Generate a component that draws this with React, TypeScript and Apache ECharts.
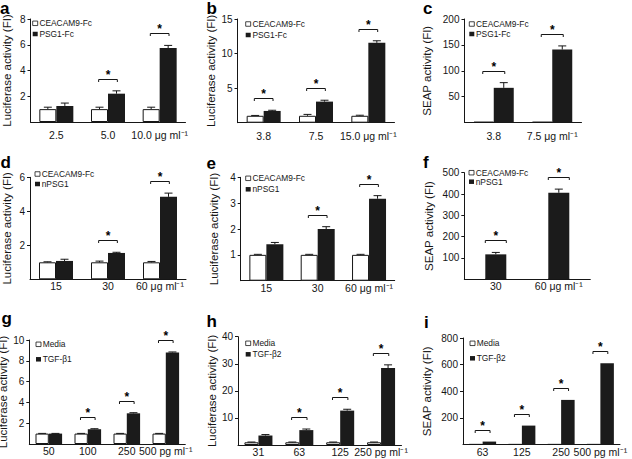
import React, { useEffect, useRef } from 'react';
import * as echarts from 'echarts';

const FONT = '"Liberation Sans", Arial, Helvetica, sans-serif';
const INK = '#161616';

// ---------- Panel a ----------
const aCategories = ['2.5', '5.0', '10.0 μg ml⁻¹'];
const aSeriesNames = ['CEACAM9-Fc', 'PSG1-Fc'];
const aControl = [1.0, 1.0, 1.0];
const aControlSd = [0.15, 0.15, 0.15];
const aTreated = [1.25, 2.2, 5.75];
const aTreatedSd = [0.22, 0.22, 0.2];
const aSignificant = [false, true, true];
const aYTicks = { max: 8, interval: 2 };

// ---------- Panel b ----------
const bCategories = ['3.8', '7.5', '15.0 μg ml⁻¹'];
const bSeriesNames = ['CEACAM9-Fc', 'PSG1-Fc'];
const bControl = [1.0, 1.0, 1.0];
const bControlSd = [0.05, 0.2, 0.08];
const bTreated = [1.7, 3.05, 11.55];
const bTreatedSd = [0.1, 0.2, 0.3];
const bSignificant = [true, true, true];
const bYTicks = { max: 15, interval: 5 };

// ---------- Panel c ----------
const cCategories = ['3.8', '7.5 μg ml⁻¹'];
const cSeriesNames = ['CEACAM9-Fc', 'PSG1-Fc'];
const cControl = [1, 1];
const cControlSd = [0, 0];
const cTreated = [67, 141];
const cTreatedSd = [10, 7];
const cSignificant = [true, true];
const cYTicks = { max: 200, interval: 50 };

// ---------- Panel d ----------
const dCategories = ['15', '30', '60 μg ml⁻¹'];
const dSeriesNames = ['CEACAM9-Fc', 'nPSG1'];
const dControl = [1.0, 1.0, 1.0];
const dControlSd = [0.03, 0.07, 0.05];
const dTreated = [1.08, 1.55, 4.85];
const dTreatedSd = [0.1, 0.04, 0.22];
const dSignificant = [false, true, true];
const dYTicks = { max: 6, interval: 2 };

// ---------- Panel e ----------
const eCategories = ['15', '30', '60 μg ml⁻¹'];
const eSeriesNames = ['CEACAM9-Fc', 'nPSG1'];
const eControl = [1.0, 1.0, 1.0];
const eControlSd = [0.02, 0.02, 0.02];
const eTreated = [1.41, 2.0, 3.17];
const eTreatedSd = [0.07, 0.09, 0.12];
const eSignificant = [false, true, true];
const eYTicks = { max: 4, interval: 1 };

// ---------- Panel f ----------
const fCategories = ['30', '60 μg ml⁻¹'];
const fSeriesNames = ['CEACAM9-Fc', 'nPSG1'];
const fControl = [1, 1];
const fControlSd = [0, 0];
const fTreated = [117, 406];
const fTreatedSd = [9, 17];
const fSignificant = [true, true];
const fYTicks = { max: 500, interval: 100 };

// ---------- Panel g ----------
const gCategories = ['50', '100', '250', '500 pg ml⁻¹'];
const gSeriesNames = ['Media', 'TGF-β1'];
const gControl = [1, 1, 1, 1];
const gControlSd = [0.02, 0.02, 0.02, 0.02];
const gTreated = [1.0, 1.42, 2.95, 8.8];
const gTreatedSd = [0.02, 0.05, 0.06, 0.05];
const gSignificant = [false, true, true, true];
const gYTicks = { max: 10, interval: 2 };

// ---------- Panel h ----------
const hCategories = ['31', '63', '125', '250 pg ml⁻¹'];
const hSeriesNames = ['Media', 'TGF-β2'];
const hControl = [1, 1, 1, 1];
const hControlSd = [0.1, 0.1, 0.1, 0.1];
const hTreated = [3.5, 5.5, 12.7, 28.4];
const hTreatedSd = [0.35, 0.4, 0.5, 1.2];
const hSignificant = [false, true, true, true];
const hYTicks = { max: 40, interval: 10 };

// ---------- Panel i ----------
const iCategories = ['63', '125', '250', '500 pg ml⁻¹'];
const iSeriesNames = ['Media', 'TGF-β2'];
const iControl = [1, 1, 1, 1];
const iControlSd = [0, 0, 0, 0];
const iTreated = [22, 142, 335, 610];
const iTreatedSd = [0, 0, 0, 0];
const iSignificant = [true, true, true, true];
const iYTicks = { max: 800, interval: 200 };

const LUC = 'Luciferase activity (FI)';
const SEAP = 'SEAP activity (FI)';

const panels = [
  { letter: 'a', categories: aCategories, names: aSeriesNames, control: aControl, controlSd: aControlSd, treated: aTreated, treatedSd: aTreatedSd, sig: aSignificant, ticks: aYTicks, yName: LUC,
    layout: { left: 30.5, top: 19, width: 155, height: 103, nameGap: 17.5, bw: 17, overlap: false, lm: 7.5, lx: 32.7, ly: 23.3, ldy: 10.7, tx: 0, tb: 13.6 } },
  { letter: 'b', categories: bCategories, names: bSeriesNames, control: bControl, controlSd: bControlSd, treated: bTreated, treatedSd: bTreatedSd, sig: bSignificant, ticks: bYTicks, yName: LUC,
    layout: { left: 237.5, top: 19, width: 157, height: 103.7, nameGap: 20.5, bw: 17, overlap: false, lm: 7.5, lx: 245.7, ly: 24, ldy: 11, tx: 206.5, tb: 13.6 } },
  { letter: 'c', categories: cCategories, names: cSeriesNames, control: cControl, controlSd: cControlSd, treated: cTreated, treatedSd: cTreatedSd, sig: cSignificant, ticks: cYTicks, yName: SEAP,
    layout: { left: 464.5, top: 19, width: 117, height: 103.5, nameGap: 32, bw: 20, overlap: false, lm: 7.5, lx: 469.3, ly: 24, ldy: 10, tx: 423, tb: 13.6 } },
  { letter: 'd', categories: dCategories, names: dSeriesNames, control: dControl, controlSd: dControlSd, treated: dTreated, treatedSd: dTreatedSd, sig: dSignificant, ticks: dYTicks, yName: LUC,
    layout: { left: 30, top: 177.3, width: 156, height: 102, nameGap: 17.5, bw: 17, overlap: false, lm: 1.5, lx: 35, ly: 174, ldy: 10, tx: 0.5, tb: 168.3 } },
  { letter: 'e', categories: eCategories, names: eSeriesNames, control: eControl, controlSd: eControlSd, treated: eTreated, treatedSd: eTreatedSd, sig: eSignificant, ticks: eYTicks, yName: LUC,
    layout: { left: 240.7, top: 177.3, width: 154, height: 103.4, nameGap: 20.5, bw: 17, overlap: false, lm: 1.5, lx: 245.7, ly: 178.3, ldy: 11, tx: 206.5, tb: 169.3 } },
  { letter: 'f', categories: fCategories, names: fSeriesNames, control: fControl, controlSd: fControlSd, treated: fTreated, treatedSd: fTreatedSd, sig: fSignificant, ticks: fYTicks, yName: SEAP,
    layout: { left: 464.3, top: 172.7, width: 126, height: 106.6, nameGap: 29.5, bw: 21, overlap: true, lm: 1.5, lx: 469, ly: 172.7, ldy: 9, tx: 423, tb: 168.3 } },
  { letter: 'g', categories: gCategories, names: gSeriesNames, control: gControl, controlSd: gControlSd, treated: gTreated, treatedSd: gTreatedSd, sig: gSignificant, ticks: gYTicks, yName: LUC,
    layout: { left: 29.3, top: 340, width: 156, height: 104, nameGap: 14.5, bw: 13.3, overlap: false, lm: 1.5, lx: 36, ly: 344.3, ldy: 15, tx: 1.5, tb: 324 } },
  { letter: 'h', categories: hCategories, names: hSeriesNames, control: hControl, controlSd: hControlSd, treated: hTreated, treatedSd: hTreatedSd, sig: hSignificant, ticks: hYTicks, yName: LUC,
    layout: { left: 238, top: 336.7, width: 163.5, height: 108.3, nameGap: 18.4, bw: 14, overlap: false, lm: 1.5, lx: 245.7, ly: 343.3, ldy: 11, tx: 206.5, tb: 327.7 } },
  { letter: 'i', categories: iCategories, names: iSeriesNames, control: iControl, controlSd: iControlSd, treated: iTreated, treatedSd: iTreatedSd, sig: iSignificant, ticks: iYTicks, yName: SEAP,
    layout: { left: 463, top: 338, width: 157, height: 106.5, nameGap: 30, bw: 13.5, overlap: false, lm: 1.5, lx: 470, ly: 343.3, ldy: 15, tx: 424, tb: 328.3 } },
];

function makeRenderItem(bw: number, overlap: boolean) {
  return (_params: any, api: any) => {
    const idx = api.value(0);
    const cv = api.value(1);
    const cs = api.value(2);
    const tv = api.value(3);
    const ts = api.value(4);
    const sig = api.value(5);
    const cx = api.coord([idx, 0])[0];
    const xc = overlap ? cx : cx - bw / 2;
    const xt = overlap ? cx : cx + bw / 2;
    const children: any[] = [];
    const cap = 4;
    const lineStyle = { stroke: INK, lineWidth: 1 };
    const err = (x: number, v: number, s: number) => {
      if (!(s > 0)) return;
      const y0 = api.coord([idx, v])[1];
      const y1 = api.coord([idx, v + s])[1];
      children.push({ type: 'line', shape: { x1: x, y1: y0, x2: x, y2: y1 }, style: lineStyle });
      children.push({ type: 'line', shape: { x1: x - cap, y1: y1, x2: x + cap, y2: y1 }, style: lineStyle });
    };
    err(xc, cv, cs);
    err(xt, tv, ts);
    if (sig) {
      const top = Math.min(api.coord([idx, cv + cs])[1], api.coord([idx, tv + ts])[1]);
      const by = Math.round(top - 12) + 0.5;
      const half = overlap ? bw * 0.5 : bw * 0.55;
      const x1 = cx - half;
      const x2 = cx + half;
      children.push({
        type: 'polyline',
        shape: { points: [[x1, by + 2.5], [x1, by], [x2, by], [x2, by + 2.5]] },
        style: { stroke: INK, lineWidth: 1, fill: null },
      });
      children.push({
        type: 'text',
        x: cx,
        y: by - 5,
        style: { text: '*', align: 'center', verticalAlign: 'middle', font: `bold 12px ${FONT}`, fill: '#000' },
      });
    }
    return { type: 'group', children };
  };
}

function buildOption() {
  const grid: any[] = [];
  const xAxis: any[] = [];
  const yAxis: any[] = [];
  const series: any[] = [];
  const graphic: any[] = [];
  const LETTER_SIZE = 17;

  panels.forEach((p, k) => {
    const L = p.layout;
    grid.push({ left: L.left, top: L.top, width: L.width, height: L.height, containLabel: false, outerBoundsMode: 'none' });
    xAxis.push({
      type: 'category',
      gridIndex: k,
      data: p.categories,
      axisLine: { show: true, lineStyle: { color: INK, width: 1 } },
      axisTick: { show: false },
      axisLabel: { color: INK, fontSize: 10.5, margin: L.lm, interval: 0, fontFamily: FONT },
      splitLine: { show: false },
    });
    yAxis.push({
      type: 'value',
      gridIndex: k,
      min: 0,
      max: p.ticks.max,
      interval: p.ticks.interval,
      name: p.yName,
      nameLocation: 'middle',
      nameGap: L.nameGap,
      nameTextStyle: { fontSize: 11.5, color: INK, fontFamily: FONT },
      axisLine: { show: true, lineStyle: { color: INK, width: 1 } },
      axisTick: { show: true, length: 3, lineStyle: { color: INK, width: 1 } },
      axisLabel: { showMinLabel: false, fontSize: 10, margin: 5, color: INK, fontFamily: FONT },
      splitLine: { show: false },
    });
    series.push({
      type: 'bar',
      name: p.names[0],
      xAxisIndex: k,
      yAxisIndex: k,
      data: p.control,
      barWidth: L.bw,
      barGap: L.overlap ? '-100%' : '0%',
      itemStyle: { color: '#ffffff', borderColor: INK, borderWidth: 1 },
      emphasis: { disabled: true },
    });
    series.push({
      type: 'bar',
      name: p.names[1],
      xAxisIndex: k,
      yAxisIndex: k,
      data: p.treated,
      barWidth: L.bw,
      barGap: L.overlap ? '-100%' : '0%',
      itemStyle: { color: '#1b1b1b', borderColor: '#1b1b1b', borderWidth: 0 },
      emphasis: { disabled: true },
    });
    series.push({
      type: 'custom',
      name: `${p.letter}-annotations`,
      xAxisIndex: k,
      yAxisIndex: k,
      color: INK,
      itemStyle: { color: INK },
      data: p.categories.map((_, i) => [i, p.control[i], p.controlSd[i], p.treated[i], p.treatedSd[i], p.sig[i] ? 1 : 0]),
      renderItem: makeRenderItem(L.bw, L.overlap),
      clip: false,
      z: 5,
      silent: true,
    });

    // panel letter
    graphic.push({
      type: 'text',
      x: L.tx,
      y: Math.max(0, L.tb - 0.85 * LETTER_SIZE),
      style: { text: p.letter, font: `bold ${LETTER_SIZE}px ${FONT}`, fill: '#000', verticalAlign: 'top', align: 'left' },
    });
    // legend
    p.names.forEach((nm, j) => {
      const cy = L.ly + j * L.ldy;
      graphic.push({
        type: 'rect',
        shape: { x: L.lx, y: cy - 2.25, width: 5, height: 4.5 },
        style: { fill: j === 0 ? '#fff' : '#1b1b1b', stroke: INK, lineWidth: j === 0 ? 0.8 : 0 },
      });
      graphic.push({
        type: 'text',
        x: L.lx + 6.7,
        y: cy,
        style: { text: nm, font: `8.4px ${FONT}`, fill: INK, verticalAlign: 'middle', align: 'left' },
      });
    });
  });

  return {
    animation: false,
    backgroundColor: '#ffffff',
    textStyle: { fontFamily: FONT },
    grid,
    xAxis,
    yAxis,
    series,
    graphic,
  };
}

export default function App() {
  const ref = useRef<HTMLDivElement>(null);
  useEffect(() => {
    document.body.style.margin = '0';
    if (!ref.current) return;
    const chart = echarts.init(ref.current, undefined, { renderer: 'svg' });
    chart.setOption(buildOption() as any);
    return () => chart.dispose();
  }, []);
  return <div ref={ref} style={{ position: 'absolute', left: 0, top: 0, width: 632, height: 459 }} />;
}
